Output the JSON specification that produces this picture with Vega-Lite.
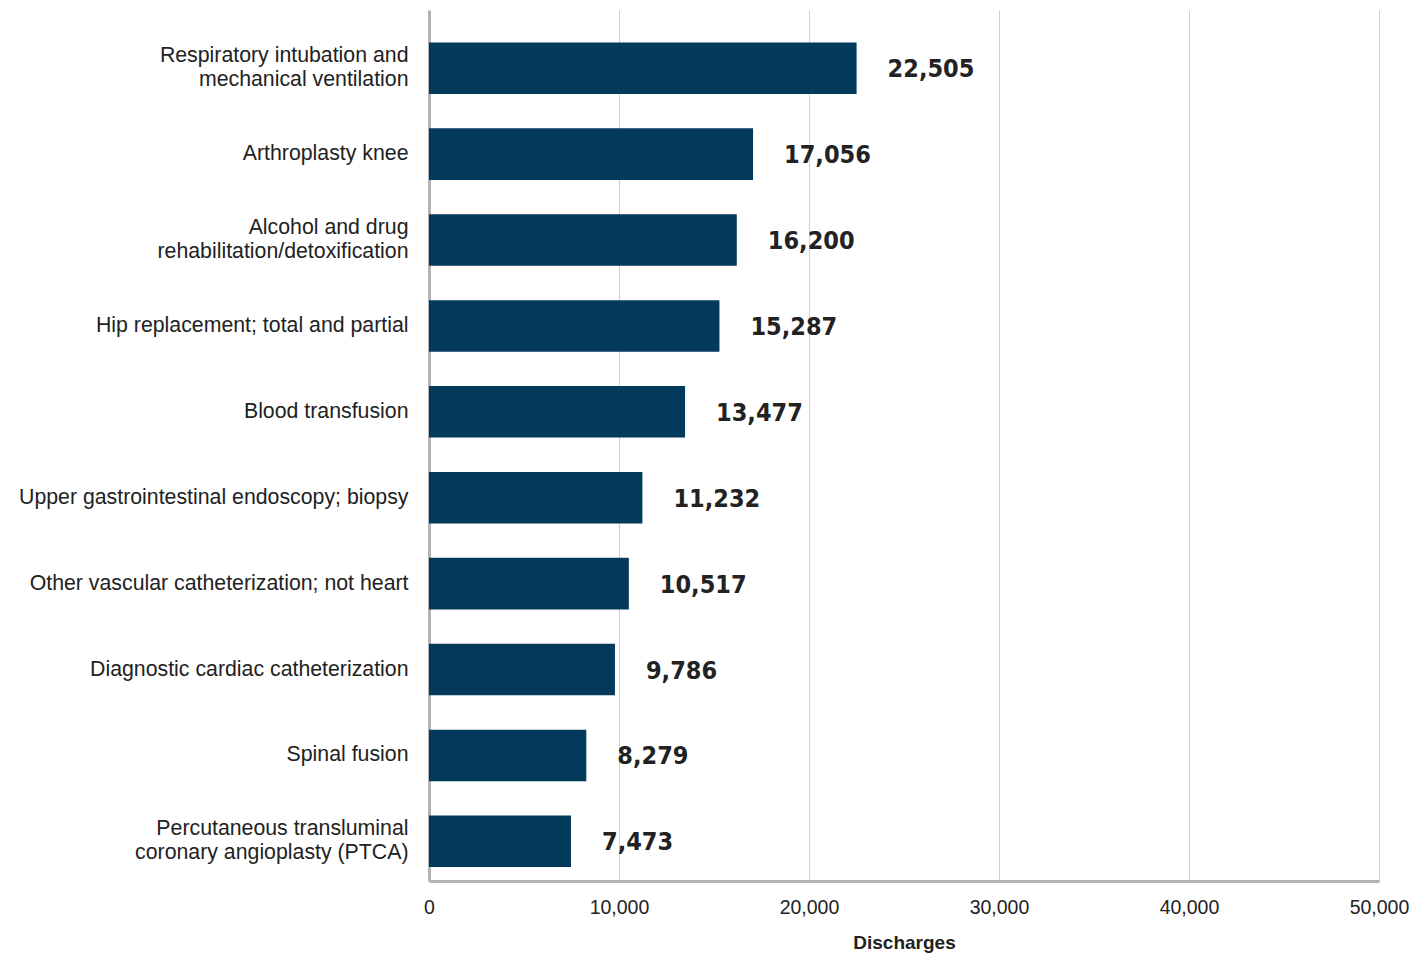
{
  "$schema": "https://vega.github.io/schema/vega-lite/v6.json",
  "autosize": "none",
  "width": 950,
  "height": 871,
  "padding": {"left": 429, "top": 10, "right": 35, "bottom": 73},
  "background": "white",
  "config": {"view": {"stroke": null}, "font": "Liberation Sans"},
  "data": {
    "values": [
      {"procedure": "Respiratory intubation and|mechanical ventilation", "discharges": 22505},
      {"procedure": "Arthroplasty knee", "discharges": 17056},
      {"procedure": "Alcohol and drug|rehabilitation/detoxification", "discharges": 16200},
      {"procedure": "Hip replacement; total and partial", "discharges": 15287},
      {"procedure": "Blood transfusion", "discharges": 13477},
      {"procedure": "Upper gastrointestinal endoscopy; biopsy", "discharges": 11232},
      {"procedure": "Other vascular catheterization; not heart", "discharges": 10517},
      {"procedure": "Diagnostic cardiac catheterization", "discharges": 9786},
      {"procedure": "Spinal fusion", "discharges": 8279},
      {"procedure": "Percutaneous transluminal|coronary angioplasty (PTCA)", "discharges": 7473}
    ]
  },
  "encoding": {
    "y": {
      "field": "procedure",
      "type": "nominal",
      "sort": null,
      "title": null,
      "scale": {"paddingInner": 0.4, "paddingOuter": 0.27, "align": 0.7},
      "axis": {
        "labelExpr": "split(datum.label, '|')",
        "labelFontSize": 21.3,
        "labelColor": "#222222",
        "labelLineHeight": 24,
        "labelPadding": 21,
        "labelLimit": 500,
        "labelOffset": {"condition": {"test": "indexof(datum.value, '|') >= 0", "value": -12}, "value": 0},
        "ticks": false,
        "domainColor": "#b3b3b3",
        "domainWidth": 3,
        "grid": false
      }
    },
    "x": {
      "field": "discharges",
      "type": "quantitative",
      "scale": {"domain": [0, 50000], "nice": false},
      "title": "Discharges",
      "axis": {
        "values": [0, 10000, 20000, 30000, 40000, 50000],
        "format": ",d",
        "labelFontSize": 19.5,
        "labelColor": "#222222",
        "labelPadding": 17,
        "labelFlush": false,
        "ticks": false,
        "domainColor": "#b3b3b3",
        "domainWidth": 3,
        "gridColor": "#d0d0d0",
        "gridWidth": 1,
        "titleFontSize": 19,
        "titleFontWeight": "bold",
        "titleColor": "#222222",
        "titlePadding": 17
      }
    }
  },
  "layer": [
    {"mark": {"type": "bar", "color": "#03395a"}},
    {
      "mark": {"type": "text", "align": "left", "baseline": "middle", "dx": 31, "dy": 1, "fontSize": 25, "fontWeight": "bold", "font": "DejaVu Sans Condensed, Liberation Sans", "color": "#222222"},
      "encoding": {"text": {"field": "discharges", "type": "quantitative", "format": ","}}
    }
  ]
}
